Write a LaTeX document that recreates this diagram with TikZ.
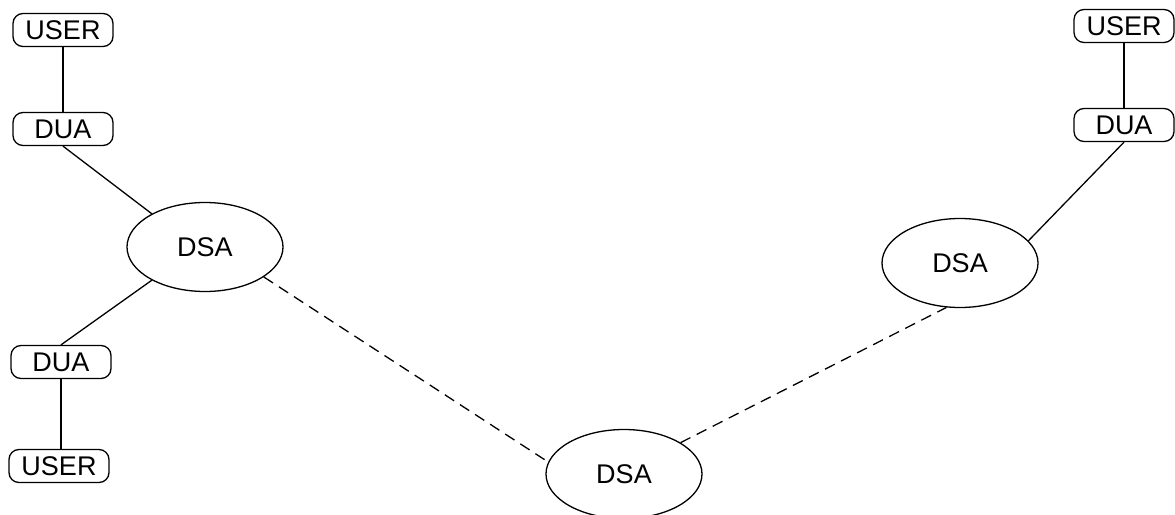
\documentclass[tikz,border=0pt]{standalone}
\usepackage{fontspec}
\setmainfont{Liberation Sans}
\usetikzlibrary{shapes.geometric}
\definecolor{LineBlack}{HTML}{000000}

\tikzset{
  agentbox/.style={draw=LineBlack, rounded corners=10pt, line width=1.3pt,
    minimum width=100pt, minimum height=33pt, inner sep=0pt,
    font=\fontsize{27}{30}\selectfont},
  dsanode/.style={draw=LineBlack, ellipse, line width=1.3pt,
    minimum width=156pt, minimum height=89pt, inner sep=0pt,
    font=\fontsize{27}{30}\selectfont},
  link/.style={draw=LineBlack, line width=1.3pt},
  peerlink/.style={draw=LineBlack, line width=1.3pt, dash pattern=on 11pt off 7pt}
}

\begin{document}
\begin{tikzpicture}[x=1pt, y=-1pt]
  \useasboundingbox (0,0) rectangle (1175,514);

  % left site
  \node[agentbox] (user1) at (63,30) {USER};
  \node[agentbox] (dua1) at (63,129) {DUA};
  \node[dsanode] (dsa1) at (205,247) {DSA};
  \node[agentbox] (dua2) at (61,362) {DUA};
  \node[agentbox] (user2) at (59,466) {USER};

  % middle and right sites
  \node[dsanode] (dsa2) at (624,474) {DSA};
  \node[dsanode] (dsa3) at (960,263) {DSA};
  \node[agentbox] (dua3) at (1124,125) {DUA};
  \node[agentbox] (user3) at (1124,26) {USER};

  % access links
  \draw[link] (user1) -- (dua1);
  \draw[link] (dua1.south) -- (dsa1.148);
  \draw[link] (dsa1.212) -- (dua2.north);
  \draw[link] (dua2.south) -- (dua2.south |- user2.north);
  \draw[link] (user3) -- (dua3);
  \draw[link] (dua3.south) -- (dsa3.18);

  % DSA to DSA
  \draw[peerlink] (dsa1.333) -- (dsa2.171);
  \draw[peerlink] (dsa2.29) -- (dsa3.253);
\end{tikzpicture}
\end{document}
